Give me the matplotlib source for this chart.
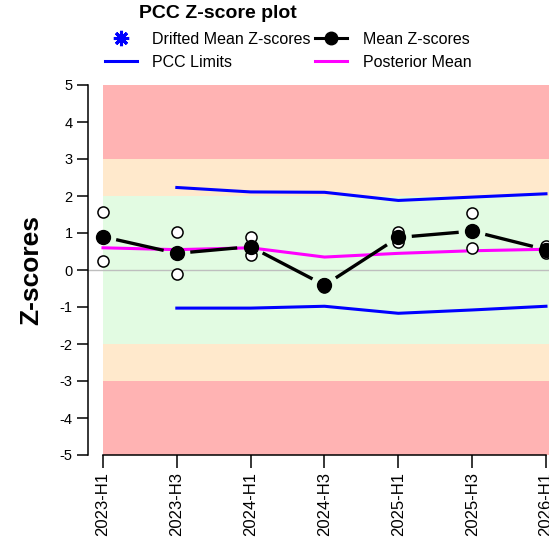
import matplotlib.pyplot as plt
from matplotlib.lines import Line2D
import numpy as np

plt.rcParams['font.family'] = ['Liberation Sans', 'DejaVu Sans']
plt.rcParams['axes.unicode_minus'] = False

periods = ["2023-H1", "2023-H3", "2024-H1", "2024-H3", "2025-H1", "2025-H3", "2026-H1"]
mean_z = [0.90, 0.45, 0.63, -0.41, 0.88, 1.05, 0.55]
# individual z-scores (two per period)
z_a = [1.58, 1.02, 0.90, -0.37, 1.03, 1.55, 0.65]
z_b = [0.24, -0.11, 0.40, -0.46, 0.75, 0.59, 0.47]
posterior = [0.60, 0.55, 0.60, 0.35, 0.45, 0.52, 0.56]
lim_x = [1, 2, 3, 4, 5, 6]
upper_lim = [2.23, 2.11, 2.10, 1.88, 1.97, 2.06]
lower_lim = [-1.03, -1.03, -0.98, -1.17, -1.08, -0.98]

x = np.arange(len(periods))

fig = plt.figure(figsize=(5.49, 5.44), dpi=100)
ax = fig.add_axes([88/549, 0.15, 1 - 88/549, 384.8/544])
ax.set_xlim(-0.203, 6.041)
ax.set_ylim(-5.2, 5.2)

x0 = (0 - ax.get_xlim()[0]) / (ax.get_xlim()[1] - ax.get_xlim()[0])
ax.axhspan(3, 5, xmin=x0, color='#ffb3b3', lw=0)
ax.axhspan(-5, -3, xmin=x0, color='#ffb3b3', lw=0)
ax.axhspan(2, 3, xmin=x0, color='#ffe9cc', lw=0)
ax.axhspan(-3, -2, xmin=x0, color='#ffe9cc', lw=0)
ax.axhspan(-2, 2, xmin=x0, color='#e2fbe2', lw=0)
ax.axhline(0, color='#bebebe', lw=1)

ax.plot(lim_x, upper_lim, color='blue', lw=2.2)
ax.plot(lim_x, lower_lim, color='blue', lw=2.2)
ax.plot(x, posterior, color='magenta', lw=2.2)

# mean line with gaps around points (like type="b")
pts = ax.transData.transform(np.column_stack([x, mean_z]))
inv = ax.transData.inverted()
gap = 13.5
for i in range(len(pts) - 1):
    p, q = pts[i], pts[i + 1]
    d = q - p
    L = np.hypot(*d)
    u = d / L
    seg = inv.transform(np.vstack([p + u * gap, q - u * gap]))
    ax.plot(seg[:, 0], seg[:, 1], color='black', lw=2.4, solid_capstyle='butt')

ax.plot(x, z_a, 'o', ms=8, mfc='white', mec='black', mew=1.1, zorder=4)
ax.plot(x, z_b, 'o', ms=8, mfc='white', mec='black', mew=1.1, zorder=4)
ax.plot(x, mean_z, 'o', ms=10, color='black', zorder=5)

for s in ['top', 'right']:
    ax.spines[s].set_visible(False)
ax.spines['left'].set_bounds(-5, 5)
ax.spines['bottom'].set_position(('data', -5))
ax.spines['bottom'].set_bounds(0, 6)
for s in ['left', 'bottom']:
    ax.spines[s].set_linewidth(1.1)

ax.set_yticks(range(-5, 6))
ax.set_xticks(x)
ax.set_xticklabels(periods, rotation=90, fontsize=12)
ax.tick_params(axis='y', labelsize=10.5, length=8, width=1.1, pad=3)
ax.tick_params(axis='x', length=9, width=1.1, pad=3)
ax.set_ylabel('Z-scores', fontsize=19, fontweight='bold', labelpad=12)

fig.text(218/549, 1 - 14/544, 'PCC Z-score plot', fontsize=14, fontweight='bold',
         ha='center', va='center')

handles = [
    Line2D([], [], ls='none', marker=(8, 2, 0), ms=11, mew=2.2, color='blue'),
    Line2D([], [], color='blue', lw=2.2),
    Line2D([], [], color='black', lw=2.2, marker='o', ms=9),
    Line2D([], [], color='magenta', lw=2.2),
]
labels = ['Drifted Mean Z-scores', 'PCC Limits', 'Mean Z-scores', 'Posterior Mean']
fig.legend(handles, labels, ncol=2, loc='upper left', bbox_to_anchor=(105/549, 1 - 32/544),
           frameon=False, fontsize=11.5, handlelength=2.0, handletextpad=0.95,
           columnspacing=0.3, labelspacing=0.5, borderpad=0, borderaxespad=0)

fig.savefig('out.png', dpi=100)
